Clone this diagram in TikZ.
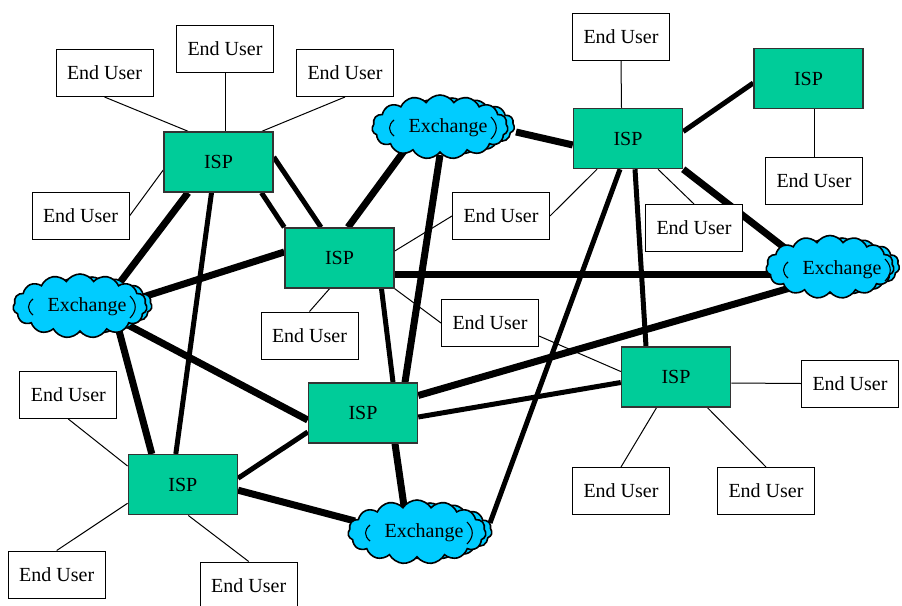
\documentclass[tikz,border=0pt]{standalone}
\usepackage{fontspec}
\setmainfont{Liberation Serif}
\usetikzlibrary{shapes.symbols,backgrounds}
\definecolor{ispgreen}{HTML}{00CC99}
\definecolor{xblue}{HTML}{00CCFF}
\tikzset{
  labelfont/.style={font=\fontsize{20}{24}\selectfont},
  user/.style={labelfont, draw=black, line width=1pt, fill=white,
    minimum width=97pt, minimum height=47pt, inner sep=0pt},
  isp/.style={labelfont, draw=black!80, line width=1.5pt, fill=ispgreen,
    minimum width=109pt, minimum height=60pt, inner sep=0pt},
  xcloud/.style={cloud, cloud puffs=15, cloud puff arc=115, cloud ignores aspect,
    draw=black, line width=1.6pt, fill=xblue, inner sep=0pt},
  xtext/.style={labelfont, inner sep=0pt},
  wide/.style={line width=7pt},
  link/.style={line width=5pt},
  feed/.style={line width=1pt},
}
% the inner "( )" strokes drawn inside each exchange cloud
\newcommand\cloudmarks[1]{%
  \draw[line width=1.1pt]
    ([xshift=-54pt,yshift=8pt]#1.center) .. controls ([xshift=-60pt,yshift=3pt]#1.center)
      and ([xshift=-60pt,yshift=-3pt]#1.center) .. ([xshift=-54pt,yshift=-8pt]#1.center);
  \draw[line width=1.1pt]
    ([xshift=43pt,yshift=11pt]#1.center) .. controls ([xshift=50pt,yshift=4pt]#1.center)
      and ([xshift=50pt,yshift=-4pt]#1.center) .. ([xshift=43pt,yshift=-11pt]#1.center);
}
\begin{document}
\begin{tikzpicture}[x=1pt,y=-1pt]
\useasboundingbox (0,0) rectangle (902,605);

% ISP boxes
\node[isp] (A) at (218.5,162) {ISP};
\node[isp] (B) at (339.5,258) {ISP};
\node[isp] (C) at (628,138.5) {ISP};
\node[isp] (D) at (808.5,78.5) {ISP};
\node[isp] (E) at (676,377) {ISP};
\node[isp] (F) at (363,413) {ISP};
\node[isp] (G) at (182.8,484.7) {ISP};

% end users
\node[user] (EU1) at (104.5,73) {End User};
\node[user] (EU2) at (225,49) {End User};
\node[user] (EU3) at (345,73) {End User};
\node[user] (EU4) at (80.5,216) {End User};
\node[user] (EU5) at (501,216) {End User};
\node[user] (EU6) at (621,37) {End User};
\node[user] (EU7) at (814,181) {End User};
\node[user] (EU8) at (694,228) {End User};
\node[user] (EU9) at (309.5,335.5) {End User};
\node[user] (EU10) at (490,323) {End User};
\node[user] (EU11) at (68.3,395) {End User};
\node[user] (EU12) at (850,383.5) {End User};
\node[user] (EU13) at (621,491) {End User};
\node[user] (EU14) at (766,491) {End User};
\node[user] (EU15) at (56.7,574.5) {End User};
\node[user] (EU16) at (248.7,585.5) {End User};

% exchange clouds: a second cloud sits behind each one
\node[xcloud, minimum width=125pt, minimum height=56pt] (X1b) at (452,126) {};
\node[xcloud, minimum width=136pt, minimum height=64pt] (X1) at (440,127) {};
\node[xtext] (X1t) at (448,128) {Exchange};
\cloudmarks{X1t}

\node[xcloud, minimum width=120pt, minimum height=56pt] (X2b) at (92,305) {};
\node[xcloud, minimum width=134pt, minimum height=64pt] (X2) at (80,306) {};
\node[xtext] (X2t) at (87,307) {Exchange};
\cloudmarks{X2t}

\node[xcloud, minimum width=115pt, minimum height=56pt] (X3b) at (842,266) {};
\node[xcloud, minimum width=128pt, minimum height=63pt] (X3) at (830,267) {};
\node[xtext] (X3t) at (842,270) {Exchange};
\cloudmarks{X3t}

\node[xcloud, minimum width=124pt, minimum height=56pt] (X4b) at (430,531) {};
\node[xcloud, minimum width=138pt, minimum height=64pt] (X4) at (417,532) {};
\node[xtext] (X4t) at (424,533) {Exchange};
\cloudmarks{X4t}

\begin{scope}[on background layer]
% end-user access lines
\draw[feed] (EU1.south) -- ([xshift=-30.5pt]A.north);
\draw[feed] (EU2.south) -- ([xshift=6.5pt]A.north);
\draw[feed] (EU3.south) -- ([xshift=43.5pt]A.north);
\draw[feed] (EU4.east) -- ([yshift=-8pt]A.west);
\draw[feed] (EU5.west) -- ([yshift=7pt]B.east);
\draw[feed] (EU5.east) -- ([xshift=-31pt]C.south);
\draw[feed] (EU6.south) -- ([xshift=-6.5pt]C.north);
\draw[feed] (EU7.north) -- ([xshift=5.5pt]D.south);
\draw[feed] (EU8.north) -- ([xshift=30pt]C.south);
\draw[feed] (EU9.north) -- ([xshift=-10pt]B.south);
\draw[feed] (EU10.west) -- (B.south east);
\draw[feed] ([yshift=-13pt]EU10.east) -- ([yshift=5.5pt]E.west);
\draw[feed] ([yshift=-6pt]E.east) -- (EU12.west);
\draw[feed] (EU13.north) -- ([xshift=-19.5pt]E.south);
\draw[feed] (EU14.north) -- ([xshift=31.5pt]E.south);
\draw[feed] (EU11.south) -- ([yshift=18.7pt]G.west);
\draw[feed] (EU15.north) -- ([yshift=-18.6pt]G.west);
\draw[feed] (EU16.north) -- ([xshift=5.5pt]G.south);

% backbone links
\draw[wide] ([xshift=-30.5pt]A.south) -- ([xshift=38pt,yshift=21pt]X2.center);
\draw[link] ([xshift=-7pt]A.south) -- ([xshift=-7pt]G.north);
\draw[link] ([xshift=43pt]A.south) -- (B.north west);
\draw[link] ([yshift=5pt]A.east) -- ([xshift=-18.5pt]B.north);
\draw[wide] ([xshift=8.5pt]B.north) -- ([xshift=-33pt,yshift=-20pt]X1.center);
\draw[wide] ([yshift=6pt]B.west) -- ([xshift=63pt,yshift=9pt]X2.center);
\draw[wide] ([yshift=-16.5pt]B.east) -- ([xshift=-57pt,yshift=-7.5pt]X3.center);
\draw[link] ([xshift=42pt]B.south) -- ([xshift=30pt]F.north);
\draw[wide] ([yshift=-28pt]X1.center) -- ([xshift=42pt]F.north);
\draw[wide] ([xshift=76pt,yshift=-5pt]X1.center) -- ([yshift=-6.5pt]C.west);
\draw[link] ([yshift=7pt]C.east) -- ([yshift=-4.5pt]D.west);
\draw[wide] (C.south east) -- ([xshift=-40pt,yshift=15pt]X3.center);
\draw[link] ([xshift=-8pt]C.south) -- ([xshift=73pt,yshift=9pt]X4.center);
\draw[link] ([xshift=7pt]C.south) -- ([xshift=-30pt]E.north);
\draw[wide] ([yshift=17.5pt]F.east) -- ([xshift=-40pt,yshift=-21pt]X3.center);
\draw[link] ([yshift=-4pt]F.east) -- ([yshift=-5.5pt]E.west);
\draw[wide] ([xshift=32pt]F.south) -- ([xshift=-12pt,yshift=19pt]X4.center);
\draw[wide] ([yshift=-7pt]F.west) -- ([xshift=48pt,yshift=-19pt]X2.center);
\draw[link] ([yshift=-19pt]F.west) -- ([yshift=6.5pt]G.east);
\draw[wide] ([xshift=-31pt]G.north) -- ([xshift=38pt,yshift=-21pt]X2.center);
\draw[wide] ([yshift=-5.5pt]G.east) -- ([xshift=-62pt,yshift=11pt]X4.center);
\end{scope}
\end{tikzpicture}
\end{document}
